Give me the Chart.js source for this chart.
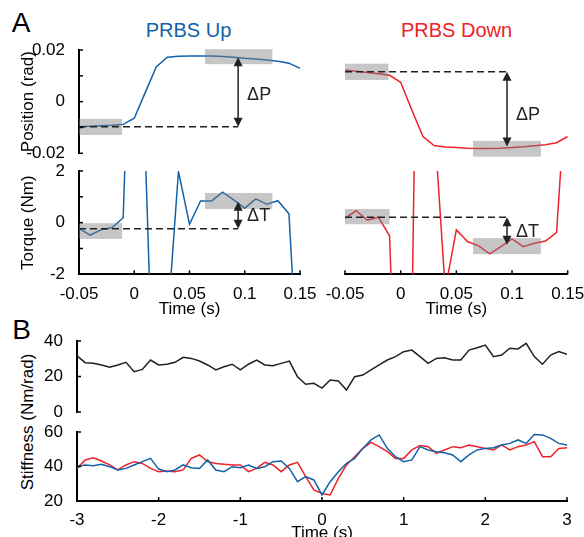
<!DOCTYPE html>
<html lang="en">
<head>
<meta charset="UTF-8">
<title>PRBS stiffness</title>
<script src="https://cdn.jsdelivr.net/npm/chart.js"></script>
<style>
    body {
        margin: 0;
        width: 584px;
        height: 537px;
        overflow: hidden;
        background: #fff;
        position: relative;
        font-family: "Liberation Sans", Arial, sans-serif;
    }
    canvas { position: absolute; }
    .lbl {
        position: absolute;
        white-space: nowrap;
        line-height: 1;
        transform: translate(-50%, -50%);
    }
</style>
</head>
<body>

<div class="lbl" style="left:21px;top:23px;font-size:28px">A</div>
<div class="lbl" style="left:21.5px;top:330px;font-size:28px">B</div>
<div class="lbl" style="left:188.5px;top:29.5px;font-size:20px;color:#1162a8">PRBS Up</div>
<div class="lbl" style="left:456.5px;top:29.5px;font-size:20px;color:#ee2229">PRBS Down</div>
<div class="lbl" style="left:27px;top:422px;font-size:17px;transform:translate(-50%,-50%) rotate(-90deg)">Stiffness (Nm/rad)</div>

<canvas id="posUp" width="330" height="120" style="left:0;top:40px"></canvas>
<canvas id="posDown" width="264" height="120" style="left:320px;top:40px"></canvas>
<canvas id="torUp" width="330" height="175" style="left:0;top:160px"></canvas>
<canvas id="torDown" width="264" height="175" style="left:320px;top:160px"></canvas>
<canvas id="stiffTop" width="584" height="95" style="left:0;top:325px"></canvas>
<canvas id="stiffBot" width="584" height="130" style="left:0;top:420px"></canvas>

<script>
// panel A: one sample every 10 ms
const timeA = [-0.05, -0.04, -0.03, -0.02, -0.01, 0, 0.01, 0.02, 0.03, 0.04, 0.05,
               0.06, 0.07, 0.08, 0.09, 0.1, 0.11, 0.12, 0.13, 0.14, 0.15];
const posUp = [-0.0097, -0.0095, -0.0093, -0.0091, -0.0088, -0.0064, 0.0036, 0.0135, 0.0172, 0.0176, 0.0177,
               0.0177, 0.0177, 0.0175, 0.0172, 0.0168, 0.0165, 0.0161, 0.0156, 0.0149, 0.0129];
const posDown = [0.0123, 0.0118, 0.0113, 0.0108, 0.0102, 0.0075, -0.0032, -0.0135, -0.017, -0.0176, -0.0178,
                 -0.018, -0.0181, -0.0181, -0.018, -0.0178, -0.0175, -0.0171, -0.0167, -0.0159, -0.0135];
const torUp = [-0.22, -0.48, -0.28, -0.19, 0.19, 13.3, 2.75, -10.6, -4.0, 1.98, -0.06,
               0.84, 0.84, 1.18, 0.88, 0.56, 0.92, 0.71, 0.85, 0.34, -7.3];
const torDown = [0.17, 0.46, 0.1, 0.21, -0.51, -12.6, -4, 25, 4.0, -2.6, -0.28,
                 -0.73, -0.9, -1.21, -0.93, -0.63, -0.93, -0.8, -0.71, -0.39, 6.2];

// panel B: one sample every 0.1 s
const timeB = [-3, -2.9, -2.8, -2.7, -2.6, -2.5, -2.4, -2.3, -2.2, -2.1, -2, -1.9, -1.8, -1.7, -1.6, -1.5,
               -1.4, -1.3, -1.2, -1.1, -1, -0.9, -0.8, -0.7, -0.6, -0.5, -0.4, -0.3, -0.2, -0.1, 0,
               0.1, 0.2, 0.3, 0.4, 0.5, 0.6, 0.7, 0.8, 0.9, 1, 1.1, 1.2, 1.3, 1.4, 1.5,
               1.6, 1.7, 1.8, 1.9, 2, 2.1, 2.2, 2.3, 2.4, 2.5, 2.6, 2.7, 2.8, 2.9, 3];
const stiffMean = [31.7, 27.8, 27.4, 26.5, 25.2, 26.5, 28.0, 22.7, 24.0, 29.3, 26.5, 26.9, 28.0, 30.8, 30.2, 28.7,
                   26.5, 23.7, 25.5, 26.9, 23.7, 26.9, 29.3, 26.5, 26.1, 27.4, 28.7, 19.9, 15.6, 16.2, 13.5,
                   18.0, 17.5, 12.4, 19.9, 20.8, 23.7, 26.5, 29.3, 31.2, 34.0, 34.9, 31.2, 27.4, 30.2, 30.6,
                   29.3, 29.3, 34.9, 36.2, 37.7, 31.2, 32.1, 35.9, 35.5, 38.7, 31.2, 26.9, 32.1, 34.0, 32.5];
const stiffUp = [39.9, 40.9, 40.5, 41.3, 39.9, 38.0, 38.9, 40.9, 42.8, 44.7, 38.5, 37.0, 38.0, 40.9, 39.3, 38.9,
                 43.8, 38.0, 37.0, 39.9, 39.3, 40.9, 38.9, 39.9, 42.8, 43.2, 38.9, 31.2, 34.1, 32.2, 23.5,
                 31.2, 37.0, 41.8, 44.7, 50.5, 55.4, 58.3, 50.5, 45.7, 42.8, 43.8, 51.5, 49.6, 48.6, 48.0,
                 46.7, 42.8, 46.7, 49.6, 50.5, 50.9, 52.5, 53.4, 55.4, 53.4, 58.6, 58.3, 56.3, 53.4, 52.5];
const stiffDown = [38.9, 43.8, 45.1, 43.2, 40.9, 38.0, 40.9, 42.8, 41.8, 38.9, 37.0, 37.4, 37.0, 38.0, 44.7, 46.7,
                   42.8, 41.8, 41.3, 40.9, 40.9, 37.0, 38.9, 42.4, 40.9, 37.0, 40.9, 42.4, 34.1, 26.4, 24.4,
                   23.5, 33.1, 40.9, 45.7, 50.5, 54.0, 51.5, 48.6, 44.7, 44.7, 49.6, 52.1, 51.5, 47.6, 49.6,
                   51.5, 50.9, 52.5, 51.5, 50.5, 49.6, 52.5, 49.6, 51.5, 52.5, 54.4, 45.7, 45.7, 50.5, 50.9];

const BLUE = '#1162a8', RED = '#ee2229', BLACK = '#231f20';
const FONT = '"Liberation Sans", Arial, sans-serif';

Chart.defaults.font.family = FONT;
Chart.defaults.font.size = 17;
Chart.defaults.color = '#000';

function pts(t, v) {
    return t.map((x, i) => ({x: x, y: v[i]}));
}

function fmt(v) {
    return String(Math.round(v * 100) / 100);
}

// ticks drawn inside the axes, like the original
const inTicks = {
    id: 'inTicks',
    afterDraw(chart) {
        const ctx = chart.ctx, a = chart.chartArea;
        ctx.save();
        ctx.strokeStyle = '#000';
        ctx.lineWidth = 1.5;
        Object.values(chart.scales).forEach(s => {
            if (!s.options.display) return;
            s.ticks.forEach(t => {
                const p = s.getPixelForValue(t.value);
                ctx.beginPath();
                if (s.isHorizontal()) {
                    ctx.moveTo(p, a.bottom);
                    ctx.lineTo(p, a.bottom - 4);
                } else {
                    ctx.moveTo(a.left, p);
                    ctx.lineTo(a.left + 4, p);
                }
                ctx.stroke();
            });
        });
        ctx.restore();
    }
};

// grey windows, dashed reference and delta arrow
const marks = {
    id: 'marks',
    afterDatasetsDraw(chart, args, o) {
        if (!o || !o.boxes) return;
        const ctx = chart.ctx, x = chart.scales.x, y = chart.scales.y;
        ctx.save();
        ctx.fillStyle = 'rgba(128,128,128,0.45)';
        o.boxes.forEach(b => {
            const x0 = x.getPixelForValue(b[0]), x1 = x.getPixelForValue(b[1]);
            const y0 = y.getPixelForValue(b[2]), y1 = y.getPixelForValue(b[3]);
            ctx.fillRect(x0, Math.min(y0, y1), x1 - x0, Math.abs(y1 - y0));
        });
        const xa = x.getPixelForValue(o.at);
        const yr = y.getPixelForValue(o.ref), ye = y.getPixelForValue(o.to);
        ctx.strokeStyle = '#222';
        ctx.fillStyle = '#222';
        ctx.lineWidth = 1.5;
        ctx.setLineDash([7, 4]);
        ctx.beginPath();
        ctx.moveTo(x.getPixelForValue(o.from), yr);
        ctx.lineTo(xa, yr);
        ctx.stroke();
        ctx.setLineDash([]);
        const top = Math.min(yr, ye), bot = Math.max(yr, ye);
        ctx.beginPath();
        ctx.moveTo(xa, top + 6);
        ctx.lineTo(xa, bot - 6);
        ctx.stroke();
        ctx.beginPath();
        ctx.moveTo(xa, top); ctx.lineTo(xa - 4.5, top + 9); ctx.lineTo(xa + 4.5, top + 9); ctx.closePath();
        ctx.moveTo(xa, bot); ctx.lineTo(xa - 4.5, bot - 9); ctx.lineTo(xa + 4.5, bot - 9); ctx.closePath();
        ctx.fill();
        ctx.font = '18px ' + FONT;
        ctx.textBaseline = 'middle';
        ctx.fillText(o.label, xa + 9, y.getPixelForValue(o.labelY));
        ctx.restore();
    }
};

function yAxis(min, max, step, w, show, labelled, title) {
    return {
        display: show,
        min: min, max: max,
        grid: {display: false},
        border: {display: show, width: 2, color: '#000'},
        ticks: {
            stepSize: step, padding: 6,
            callback: v => labelled(v) ? fmt(v) : ''
        },
        title: title ? {display: true, text: title, font: {size: 17}, padding: {top: 17.8}} : {display: false},
        afterFit: s => { s.width = show ? w : 0; s.paddingTop = 0; s.paddingBottom = 0; }
    };
}

function xAxis(min, max, step, h, show, pad, title, titlePad) {
    return {
        type: 'linear',
        display: show,
        min: min, max: max,
        grid: {display: false},
        border: {display: show, width: 2, color: '#000'},
        ticks: {stepSize: step, padding: pad, maxRotation: 0, autoSkip: false, callback: v => fmt(v)},
        title: title ? {display: true, text: title, font: {size: 17}, padding: {bottom: titlePad}} : {display: false},
        afterFit: s => { s.height = show ? h : 0; s.paddingLeft = 0; s.paddingRight = 0; }
    };
}

function makeChart(id, datasets, pad, scales, markOpts) {
    return new Chart(document.getElementById(id), {
        type: 'line',
        data: {datasets: datasets},
        options: {
            responsive: false,
            animation: false,
            devicePixelRatio: 1,
            layout: {padding: pad},
            elements: {point: {radius: 0}, line: {borderWidth: 1.5, tension: 0}},
            scales: scales,
            plugins: {legend: {display: false}, tooltip: {enabled: false}, marks: markOpts || {}}
        },
        plugins: [inTicks, marks]
    });
}

const evenPos = v => Math.round(v * 100) % 2 === 0;
const evenTor = v => Math.round(v) % 2 === 0;

makeChart('posUp',
    [{data: pts(timeA, posUp), borderColor: BLUE}],
    {left: 0, top: 10, right: 30, bottom: 6.7},
    {x: xAxis(-0.05, 0.15, 0.05, 0, false), y: yAxis(-0.02, 0.02, 0.01, 79, true, evenPos, 'Position (rad)')},
    {boxes: [[-0.05, -0.011, -0.0067, -0.0129], [0.064, 0.125, 0.0203, 0.0145]],
     from: -0.05, at: 0.094, ref: -0.0097, to: 0.0172, label: 'ΔP', labelY: 0.0026});

makeChart('posDown',
    [{data: pts(timeA, posDown), borderColor: RED}],
    {left: 25, top: 10, right: 16.3, bottom: 6.7},
    {x: xAxis(-0.05, 0.15, 0.05, 0, false), y: yAxis(-0.02, 0.02, 0.01, 0, false, evenPos)},
    {boxes: [[-0.05, -0.011, 0.0147, 0.0084], [0.065, 0.126, -0.0152, -0.0213]],
     from: -0.05, at: 0.0955, ref: 0.0116, to: -0.0174, label: 'ΔP', labelY: -0.0051});

makeChart('torUp',
    [{data: pts(timeA, torUp), borderColor: BLUE}],
    {left: 0, top: 11, right: 30, bottom: 0},
    {x: xAxis(-0.05, 0.15, 0.05, 60.7, true, 2.2, 'Time (s)', 15.8), y: yAxis(-2, 2, 1, 79, true, evenTor, 'Torque (Nm)')},
    {boxes: [[-0.05, -0.011, -0.02, -0.63], [0.064, 0.125, 1.15, 0.53]],
     from: -0.05, at: 0.094, ref: -0.24, to: 0.81, label: 'ΔT', labelY: 0.26});

makeChart('torDown',
    [{data: pts(timeA, torDown), borderColor: RED}],
    {left: 25, top: 11, right: 16.3, bottom: 0},
    {x: xAxis(-0.05, 0.15, 0.05, 60.7, true, 2.2, 'Time (s)', 15.8), y: yAxis(-2, 2, 1, 0, false, evenTor)},
    {boxes: [[-0.05, -0.01, 0.53, -0.06], [0.065, 0.126, -0.6, -1.22]],
     from: -0.05, at: 0.0955, ref: 0.21, to: -0.86, label: 'ΔT', labelY: -0.38});

makeChart('stiffTop',
    [{data: pts(timeB, stiffMean), borderColor: BLACK}],
    {left: 0, top: 16, right: 17, bottom: 8},
    {x: xAxis(-3, 3, 1, 0, false), y: yAxis(0, 40, 20, 77, true, () => true)});

makeChart('stiffBot',
    [{data: pts(timeB, stiffUp), borderColor: BLUE}, {data: pts(timeB, stiffDown), borderColor: RED}],
    {left: 0, top: 12, right: 17, bottom: 0},
    {x: xAxis(-3, 3, 1, 49, true, 1, 'Time (s)', 6.8), y: yAxis(20, 60, 20, 77, true, () => true)});
</script>
</body>
</html>
